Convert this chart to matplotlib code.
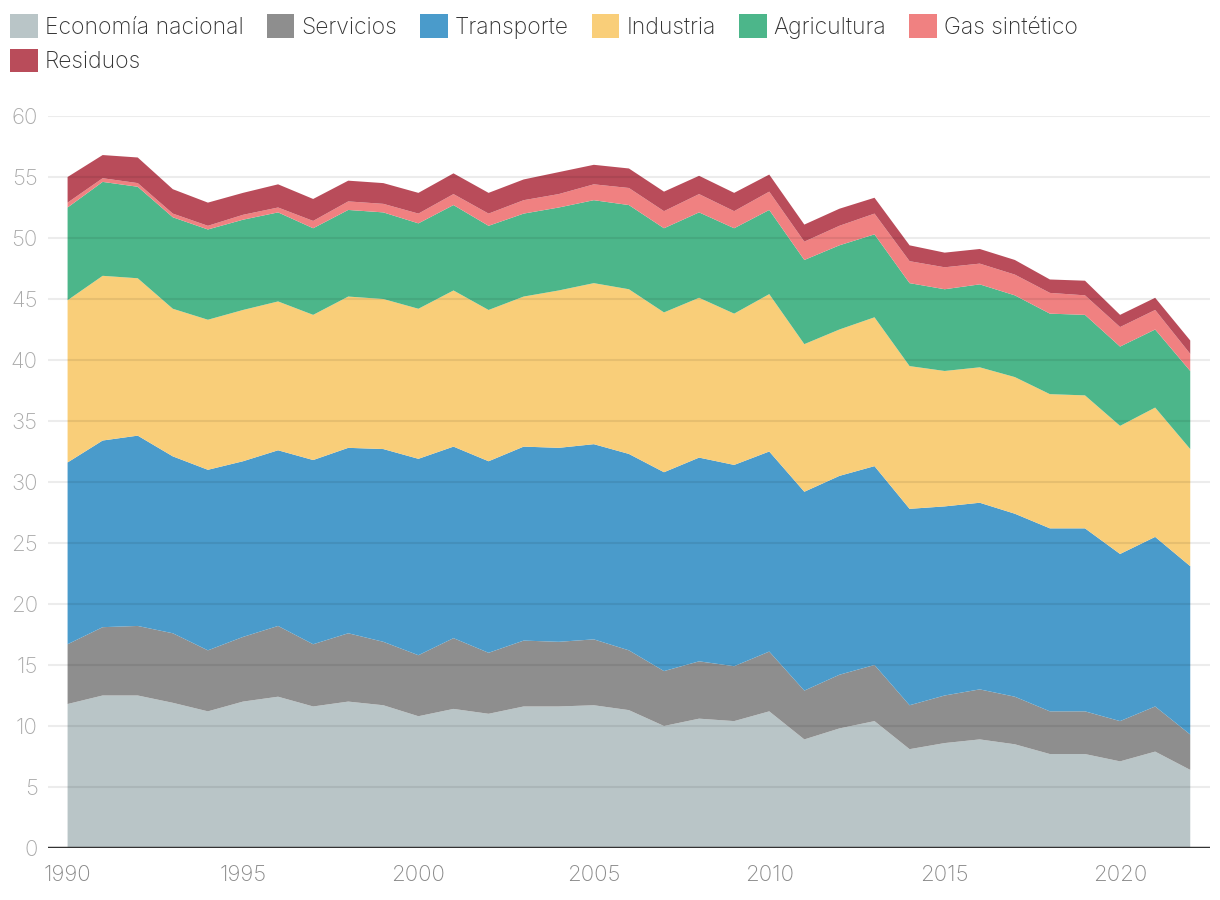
import numpy as np
import matplotlib
matplotlib.use("Agg")
import matplotlib.pyplot as plt
from matplotlib.patches import Patch

years = list(range(1990, 2023))

labels = ["Economía nacional", "Servicios", "Transporte", "Industria",
          "Agricultura", "Gas sintético", "Residuos"]
colors = ["#b9c5c7", "#8e8e8e", "#4a9bcb", "#f9ce79", "#4cb68a", "#f08181", "#b94c5a"]

economia = [11.8, 12.5, 12.5, 11.9, 11.2, 12.0, 12.4, 11.6, 12.0, 11.7, 10.8, 11.4, 11.0,
            11.6, 11.6, 11.7, 11.3, 10.0, 10.6, 10.4, 11.2, 8.9, 9.8, 10.4, 8.1, 8.6, 8.9,
            8.5, 7.7, 7.7, 7.1, 7.9, 6.4]
servicios = [4.9, 5.6, 5.7, 5.7, 5.0, 5.3, 5.8, 5.1, 5.6, 5.2, 5.0, 5.8, 5.0, 5.4, 5.3,
             5.4, 4.9, 4.5, 4.7, 4.5, 4.9, 4.0, 4.4, 4.6, 3.6, 3.9, 4.1, 3.9, 3.5, 3.5,
             3.3, 3.7, 2.9]
transporte = [14.9, 15.3, 15.6, 14.5, 14.8, 14.4, 14.4, 15.1, 15.2, 15.8, 16.1, 15.7, 15.7,
              15.9, 15.9, 16.0, 16.1, 16.3, 16.7, 16.5, 16.4, 16.3, 16.3, 16.3, 16.1, 15.5,
              15.3, 15.0, 15.0, 15.0, 13.7, 13.9, 13.8]
industria = [13.3, 13.5, 12.9, 12.1, 12.3, 12.4, 12.2, 11.9, 12.4, 12.3, 12.3, 12.8, 12.4,
             12.3, 12.9, 13.2, 13.5, 13.1, 13.1, 12.4, 12.9, 12.1, 12.0, 12.2, 11.7, 11.1,
             11.1, 11.2, 11.0, 10.9, 10.5, 10.6, 9.6]
agricultura = [7.6, 7.7, 7.5, 7.5, 7.4, 7.4, 7.3, 7.1, 7.1, 7.1, 7.0, 7.0, 6.9, 6.8, 6.8,
               6.8, 6.9, 6.9, 7.0, 7.0, 6.9, 6.9, 6.9, 6.8, 6.8, 6.7, 6.8, 6.7, 6.6, 6.6,
               6.5, 6.4, 6.4]
gas_sintetico = [0.4, 0.3, 0.3, 0.3, 0.3, 0.4, 0.4, 0.6, 0.7, 0.7, 0.8, 0.9, 1.0, 1.1, 1.1,
                 1.3, 1.4, 1.4, 1.5, 1.4, 1.5, 1.5, 1.6, 1.7, 1.8, 1.8, 1.7, 1.7, 1.7, 1.6,
                 1.6, 1.6, 1.4]
residuos = [2.1, 1.9, 2.1, 2.0, 1.9, 1.8, 1.9, 1.8, 1.7, 1.7, 1.7, 1.7, 1.7, 1.7, 1.8, 1.6,
            1.6, 1.6, 1.5, 1.5, 1.4, 1.4, 1.4, 1.3, 1.3, 1.2, 1.2, 1.2, 1.1, 1.2, 1.0, 1.0,
            1.1]

series = [economia, servicios, transporte, industria, agricultura, gas_sintetico, residuos]

plt.rcParams['font.family'] = ['Inter', 'DejaVu Sans']

fig = plt.figure(figsize=(12.2, 9), dpi=100)
ax = fig.add_axes([0.039, 0.0578, 0.953, 0.8133])

ax.stackplot(years, *series, colors=colors, linewidth=0, zorder=2)

# gridlines over the areas, faint
for v in range(5, 61, 5):
    ax.axhline(v, color="black", alpha=0.075, linewidth=1.5, zorder=3)
ax.axhline(0, color="#333333", linewidth=2.5, zorder=4)

ax.set_xlim(1989.43, 2022.57)
ax.set_ylim(0, 60)
ax.set_yticks(range(0, 61, 5))
ax.set_xticks(range(1990, 2021, 5))
for s in ax.spines.values():
    s.set_visible(False)
ax.tick_params(axis="y", length=0, pad=7, labelsize=16, labelcolor="#aaaaaa")
ax.tick_params(axis="x", length=0, pad=12, labelsize=16, labelcolor="#888888")
for t in ax.get_xticklabels() + ax.get_yticklabels():
    t.set_fontweight("light")

handles = [Patch(facecolor=c, edgecolor="none", label=l) for c, l in zip(colors, labels)]
leg_kw = dict(frameon=False, handlelength=1.22, handleheight=1.22,
              handletextpad=0.3, columnspacing=1.0, borderpad=0, borderaxespad=0,
              labelcolor="#333333", prop={"weight": "light", "size": 16.5})
leg1 = fig.legend(handles=handles[:6], ncol=6, loc="upper left",
                  bbox_to_anchor=(0.0082, 0.984), **leg_kw)
leg2 = fig.legend(handles=handles[6:], ncol=1, loc="upper left",
                  bbox_to_anchor=(0.0082, 0.946), **leg_kw)

fig.savefig("out.png", dpi=100)
